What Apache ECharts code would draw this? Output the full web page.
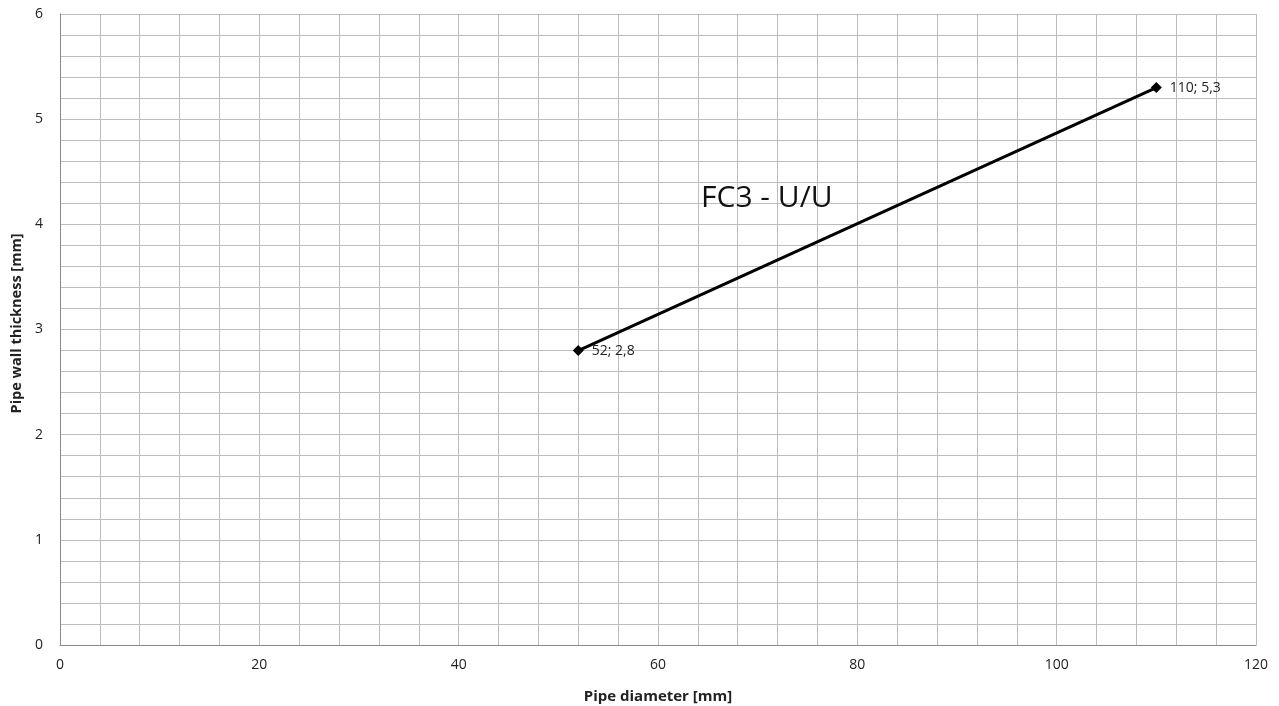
<!DOCTYPE html>
<html><head><meta charset="utf-8">
<script src="https://cdn.jsdelivr.net/npm/echarts@6/dist/echarts.min.js"></script>
<style>html,body{margin:0;padding:0;background:#fff}#c{width:1279px;height:706px}</style>
</head><body><div id="c"></div>
<script>
const chartTitle = 'FC3 - U/U';
const xName = 'Pipe diameter [mm]';
const yName = 'Pipe wall thickness [mm]';
const diameters = [52, 110];
const thickness = [2.8, 5.3];
const pointLabels = ['52; 2,8', '110; 5,3'];

const font = '"Open Sans", "Liberation Sans", sans-serif';
const chart = echarts.init(document.getElementById('c'));
chart.setOption({
  animation: false,
  backgroundColor: '#fff',
  title: {
    text: chartTitle, left: 696, top: 178,
    textStyle: { fontFamily: font, fontSize: 30, fontWeight: 'normal', color: '#111' }
  },
  grid: { left: 60, right: 23, top: 14, bottom: 61, containLabel: false, outerBoundsMode: 'none' },
  xAxis: {
    type: 'value', min: 0, max: 120, interval: 20,
    name: xName, nameLocation: 'middle', nameGap: 44,
    nameTextStyle: { fontFamily: font, fontSize: 15, fontWeight: 'bold', color: '#222' },
    axisLine: { show: true, lineStyle: { color: '#888', width: 1 } },
    axisTick: { show: false },
    axisLabel: { fontFamily: font, fontSize: 14, color: '#222', margin: 13 },
    splitLine: { show: true, lineStyle: { color: '#bdbdbd', width: 1 } },
    minorTick: { show: false, splitNumber: 5 },
    minorSplitLine: { show: true, lineStyle: { color: '#bdbdbd', width: 1 } }
  },
  yAxis: {
    type: 'value', min: 0, max: 6, interval: 1,
    name: yName, nameLocation: 'middle', nameGap: 30, nameRotate: 90,
    nameTextStyle: { fontFamily: font, fontSize: 14.5, fontWeight: 'bold', color: '#222', padding: [0, 0, 0, 12] },
    axisLine: { show: true, lineStyle: { color: '#888', width: 1 } },
    axisTick: { show: false },
    axisLabel: { fontFamily: font, fontSize: 14, color: '#222', margin: 17 },
    splitLine: { show: true, lineStyle: { color: '#bdbdbd', width: 1 } },
    minorTick: { show: false, splitNumber: 5 },
    minorSplitLine: { show: true, lineStyle: { color: '#bdbdbd', width: 1 } }
  },
  series: [{
    type: 'line',
    data: diameters.map((d, i) => [d, thickness[i]]),
    symbol: 'diamond', symbolSize: 11,
    lineStyle: { color: '#000', width: 3 },
    itemStyle: { color: '#000' },
    label: {
      show: true, position: 'right', distance: 8,
      fontFamily: font, fontSize: 14, color: '#222',
      formatter: p => pointLabels[p.dataIndex]
    }
  }]
});
</script></body></html>
